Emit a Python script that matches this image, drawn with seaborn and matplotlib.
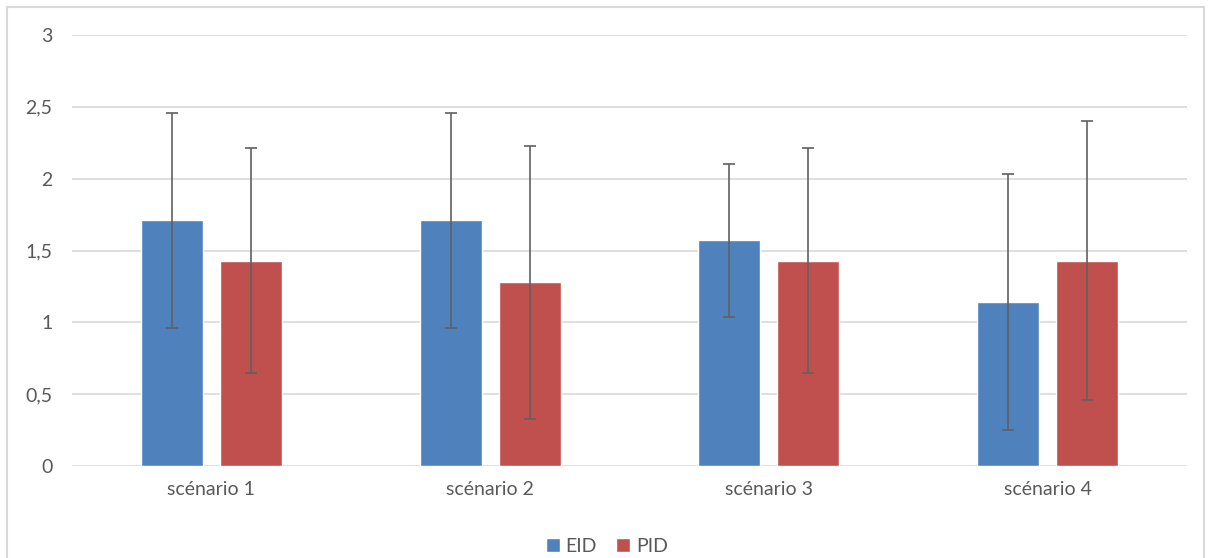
import matplotlib
matplotlib.use("Agg")
import matplotlib.pyplot as plt
import seaborn as sns
import pandas as pd
import numpy as np
from matplotlib.patches import Rectangle, Patch
from matplotlib.ticker import FuncFormatter, MultipleLocator

categories = ["scénario 1", "scénario 2", "scénario 3", "scénario 4"]
series = ["EID", "PID"]
eid_mean = [1.71, 1.71, 1.57, 1.14]
pid_mean = [1.43, 1.28, 1.43, 1.43]
eid_sd = [0.75, 0.75, 0.53, 0.89]
pid_sd = [0.78, 0.95, 0.78, 0.97]
colors = {"EID": "#4F81BD", "PID": "#C0504D"}

df = pd.DataFrame({
    "cat": categories * 2,
    "series": ["EID"] * 4 + ["PID"] * 4,
    "val": eid_mean + pid_mean,
    "sd": eid_sd + pid_sd,
})

sns.set_theme(style="white")
plt.rcParams["font.family"] = ["Lato", "DejaVu Sans"]
txt = "#595959"

fig = plt.figure(figsize=(12.1, 5.58), dpi=100)
ax = fig.add_axes([72 / 1210, 1 - 466 / 558, (1187 - 72) / 1210, (466 - 35) / 558])

sns.barplot(data=df, x="cat", y="val", hue="series", order=categories,
            hue_order=series, palette=colors, width=0.567, gap=0.215,
            errorbar=None, ax=ax, legend=False, saturation=1, zorder=2)

# error bars at bar centers
for container, s in zip(ax.containers, series):
    sub = df[df.series == s].set_index("cat").loc[categories]
    xs = [p.get_x() + p.get_width() / 2 for p in container.patches]
    ax.errorbar(xs, sub["val"].values, yerr=sub["sd"].values, fmt="none",
                ecolor="#606060", elinewidth=1.2, capsize=4.5, capthick=1.2, zorder=3)

ax.set_ylim(0, 3)
ax.set_xlim(-0.5, 3.5)
ax.yaxis.set_major_locator(MultipleLocator(0.5))
ax.yaxis.set_major_formatter(FuncFormatter(lambda v, p: (f"{v:g}").replace(".", ",")))
ax.grid(axis="y", color="#D9D9D9", lw=1.2, zorder=0)
ax.set_axisbelow(True)
for sp in ax.spines.values():
    sp.set_visible(False)
ax.set_xlabel("")
ax.set_ylabel("")
ax.tick_params(axis="both", length=0, colors=txt, labelsize=14)
ax.tick_params(axis="y", pad=14)
ax.tick_params(axis="x", pad=11)

handles = [Patch(facecolor=colors[s], label=s) for s in series]
fig.legend(handles=handles, loc="center", bbox_to_anchor=(607 / 1210, 1 - 546 / 558),
           ncol=2, frameon=False, fontsize=14, handlelength=0.7, handleheight=0.7,
           handletextpad=0.3, columnspacing=1.0, labelcolor=txt)

fig.patches.append(Rectangle((7 / 1210, -0.05), (1204 - 7) / 1210, 1.05 - 7 / 558,
                             transform=fig.transFigure, fill=False,
                             edgecolor="#D9D9D9", lw=1.5))

fig.savefig("out.png", dpi=100, facecolor="white")
